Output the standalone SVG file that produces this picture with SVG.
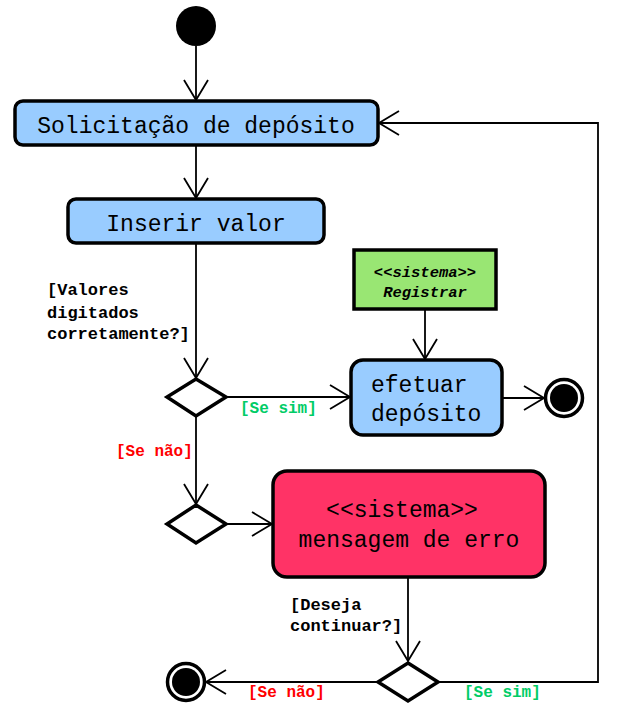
<svg xmlns="http://www.w3.org/2000/svg" width="622" height="713" viewBox="0 0 622 713">
<style>
.box{stroke:#000;stroke-width:3.5}
.blue{fill:#99ccff}
.t{font-family:"Liberation Mono","Courier New",monospace;font-size:23px;fill:#000}
.lbl{font-family:"Liberation Mono","Courier New",monospace;font-size:17px;font-weight:bold;fill:#000}
.g{font-family:"Liberation Mono","Courier New",monospace;font-size:16px;font-weight:bold;fill:#00cc66}
.r{font-family:"Liberation Mono","Courier New",monospace;font-size:16px;font-weight:bold;fill:#ff0000}
.sys{font-family:"Liberation Mono","Courier New",monospace;font-size:15.5px;font-weight:bold;font-style:italic;fill:#000}
.dia{fill:#fff;stroke:#000;stroke-width:3.5}
.c{fill:none;stroke:#000;stroke-width:1.8}
</style>
<defs>
<marker id="arr" markerUnits="userSpaceOnUse" markerWidth="30" markerHeight="30" viewBox="-22 -15 26 30" refX="0" refY="0" orient="auto">
<path d="M-20,-12 L0,0 L-20,12" fill="none" stroke="#000" stroke-width="1.8"/>
</marker>
</defs>
<g id="connectors">
<line class="c" x1="196" y1="46" x2="196" y2="100" marker-end="url(#arr)"/>
<line class="c" x1="196" y1="145" x2="196" y2="198" marker-end="url(#arr)"/>
<line class="c" x1="196" y1="243" x2="196" y2="378" marker-end="url(#arr)"/>
<line class="c" x1="226" y1="397" x2="350" y2="397" marker-end="url(#arr)"/>
<line class="c" x1="425" y1="309" x2="425" y2="359" marker-end="url(#arr)"/>
<line class="c" x1="502" y1="398" x2="544" y2="398" marker-end="url(#arr)"/>
<line class="c" x1="196" y1="416" x2="196" y2="504" marker-end="url(#arr)"/>
<line class="c" x1="226" y1="524" x2="272" y2="524" marker-end="url(#arr)"/>
<line class="c" x1="408" y1="577" x2="408" y2="661" marker-end="url(#arr)"/>
<line class="c" x1="378" y1="682" x2="206" y2="682" marker-end="url(#arr)"/>
<polyline class="c" points="438,682 598,682 598,123 379,123" marker-end="url(#arr)"/>
<text class="lbl" x="47" y="295">[Valores</text>
<text class="lbl" x="47" y="318">digitados</text>
<text class="lbl" x="47" y="339">corretamente?]</text>
<text class="g" x="240" y="413">[Se sim]</text>
<text class="r" x="116" y="456">[Se não]</text>
<text class="lbl" x="290" y="610">[Deseja</text>
<text class="lbl" x="290" y="631">continuar?]</text>
<text class="r" x="248" y="697">[Se não]</text>
<text class="g" x="464" y="697">[Se sim]</text>
</g>
<g id="start"><circle cx="196" cy="26" r="20" fill="#000"/></g>
<g id="solicitacao">
<rect class="box blue" x="15" y="101" width="363" height="44" rx="8"/>
<text class="t" x="196" y="133" text-anchor="middle">Solicitação de depósito</text>
</g>
<g id="inserir">
<rect class="box blue" x="68" y="199" width="256" height="44" rx="8"/>
<text class="t" x="196" y="231" text-anchor="middle">Inserir valor</text>
</g>
<g id="decisao1"><polygon class="dia" points="196,379 226,397 196,416 167,397"/></g>
<g id="registrar">
<rect class="box" fill="#99e673" x="354" y="250" width="142" height="59" stroke-width="4"/>
<text class="sys" x="425" y="277" text-anchor="middle">&lt;&lt;sistema&gt;&gt;</text>
<text class="sys" x="425" y="297" text-anchor="middle">Registrar</text>
</g>
<g id="efetuar">
<rect class="box blue" x="351" y="360" width="151" height="75" rx="12"/>
<text class="t" x="371" y="392">efetuar</text>
<text class="t" x="371" y="421">depósito</text>
</g>
<g id="fim1">
<circle cx="564" cy="398" r="18.5" fill="#fff" stroke="#000" stroke-width="3.5"/>
<circle cx="564" cy="398" r="14" fill="#000"/>
</g>
<g id="decisao2"><polygon class="dia" points="196,505 226,524 196,543 167,524"/></g>
<g id="erro">
<rect class="box" fill="#ff3366" x="273" y="471" width="272" height="106" rx="14"/>
<text class="t" x="402" y="517" text-anchor="middle">&lt;&lt;sistema&gt;&gt;</text>
<text class="t" x="409" y="547" text-anchor="middle">mensagem de erro</text>
</g>
<g id="decisao3"><polygon class="dia" points="408,663 438,682 408,701 378,682"/></g>
<g id="fim2">
<circle cx="186" cy="682" r="18.5" fill="#fff" stroke="#000" stroke-width="3.5"/>
<circle cx="186" cy="682" r="14" fill="#000"/>
</g>
</svg>
